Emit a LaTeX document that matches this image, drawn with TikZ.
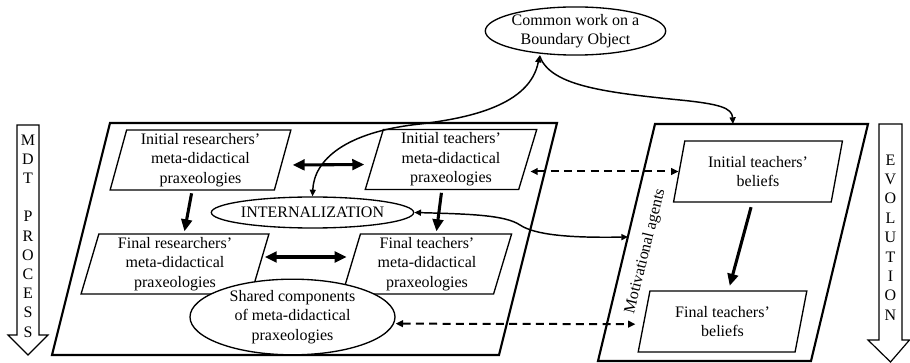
\documentclass[tikz,border=0pt]{standalone}
\usepackage{fontspec}
\setmainfont{Liberation Serif}
\usetikzlibrary{shapes.geometric,arrows.meta}

\begin{document}
\begin{tikzpicture}[x=0.75pt,y=-0.75pt,
  every node/.style={font=\fontsize{12}{14.6}\selectfont, align=center},
  frame/.style={draw, line width=1.6pt},
  praxbox/.style={draw, line width=1pt, trapezium, trapezium left angle=76,
    trapezium right angle=104, trapezium stretches=true, inner sep=0pt,
    minimum height=45pt},
  oval/.style={draw, line width=1pt, ellipse, fill=white, inner sep=0pt},
  bigarrow/.style={line width=2.3pt, -{Triangle[length=9pt,width=8pt]}},
  bigdouble/.style={line width=2.3pt,
    {Triangle[length=9pt,width=8pt]}-{Triangle[length=9pt,width=8pt]}},
  link/.style={line width=1.1pt, -{Triangle[length=5pt,width=4.5pt]}},
  linkboth/.style={line width=1.1pt,
    {Triangle[length=5pt,width=4.5pt]}-{Triangle[length=5pt,width=4.5pt]}},
  dashlink/.style={line width=1.5pt, dash pattern=on 6pt off 4pt,
    {Triangle[length=5.5pt,width=5pt]}-{Triangle[length=5.5pt,width=5pt]}},
  stagearrow/.style={draw, line width=0.9pt}
]
\useasboundingbox (0,0) rectangle (910,363);

% stage arrows on both sides
\draw[stagearrow] (17,125) -- (39,125) -- (39,335) -- (48,335) -- (28,355)
  -- (8,335) -- (17,335) -- cycle;
\node[font=\fontsize{12}{14.4}\selectfont] (mdt) at (28,236)
  {M\\D\\T\\\mbox{}\\P\\R\\O\\C\\E\\S\\S};
\draw[stagearrow] (879,124) -- (902,124) -- (902,340) -- (909.5,340)
  -- (890.5,362) -- (868,340) -- (879,340) -- cycle;
\node[font=\fontsize{12}{14.55}\selectfont] (evo) at (890.5,237.5)
  {E\\V\\O\\L\\U\\T\\I\\O\\N};

% frames: MDT praxeologies (left) and teachers' beliefs (right)
\draw[frame] (110,123) -- (557,123) -- (499,355) -- (52,355) -- cycle;
\draw[frame] (655,124) -- (868,124) -- (811,361) -- (598,361) -- cycle;
\coordinate (rpside) at (628,237);
\coordinate (rptop) at (733,124);

% praxeology boxes
\node[praxbox, minimum width=135.75pt] (irp) at (200.5,160)
  {Initial researchers’\\meta-didactical\\praxeologies};
\node[praxbox, minimum width=129pt] (itp) at (451,159.5)
  {Initial teachers’\\meta-didactical\\praxeologies};
\node[praxbox, minimum width=141pt] (frp) at (175,264)
  {Final researchers’\\meta-didactical\\praxeologies};
\node[praxbox, minimum width=127.5pt] (ftp) at (427,264)
  {Final teachers’\\meta-didactical\\praxeologies};
\node[praxbox, minimum width=127.5pt, minimum height=45.75pt] (itb) at (758,171.5)
  {Initial teachers’\\beliefs};
\node[praxbox, minimum width=126.75pt, minimum height=45.75pt] (ftb) at (722.5,321.5)
  {Final teachers’\\beliefs};

% ovals
\node[oval, minimum width=150.75pt, minimum height=23.25pt] (intern) at (312.5,212.5)
  {INTERNALIZATION};
\node[oval, minimum width=153.75pt, minimum height=54pt] (shared) at (292.5,317)
  {Shared components\\of meta-didactical\\praxeologies};
\node[oval, minimum width=129.75pt, minimum height=36pt] (common) at (575.5,31)
  {Common work on a\\Boundary Object};

\node[rotate=76] (motiv) at (645.5,251.5) {Motivational agents};

% connectors
\draw[bigdouble, shorten <=7pt, shorten >=7pt]
  ([yshift=-3.75pt]irp.right side) -- ([yshift=-3.75pt]itp.left side);
\draw[bigdouble, shorten <=3pt, shorten >=3pt]
  ([yshift=5.25pt]frp.right side) -- ([yshift=5.25pt]ftp.left side);
\draw[bigarrow, shorten <=2pt, shorten >=1.5pt] (irp.bottom side) -- (frp.top side);
\draw[bigarrow, shorten <=2pt, shorten >=1.5pt] (itp.bottom side) -- (ftp.top side);
\draw[bigarrow, shorten <=3.5pt, shorten >=3.5pt] (itb.bottom side) -- (ftb.top side);

\draw[dashlink, shorten <=1.5pt] ([yshift=-9pt]itp.right side) -- (itb.left side);
\draw[dashlink, shorten >=6pt] ([yshift=-5pt]shared.east) -- ([yshift=-2pt]ftb.left side);

\draw[linkboth] (intern.east) .. controls (470,214) and (505,215) .. (520,225)
  .. controls (535,235) and (570,238) .. (rpside);
\draw[linkboth] (intern.north) .. controls (314,160) and (345,132) .. (420,124)
  .. controls (470,118) and (530,105) .. ([xshift=-27pt]common.south);
\draw[link] ([xshift=-27pt]common.south) .. controls (550,85) and (600,92) .. (680,100)
  .. controls (720,104) and (732,108) .. (rptop);
\end{tikzpicture}
\end{document}
